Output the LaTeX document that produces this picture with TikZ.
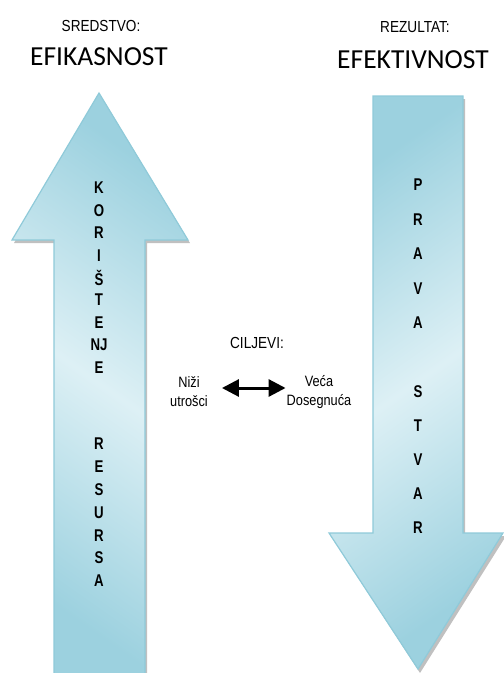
\documentclass[tikz,border=0pt]{standalone}
\usepackage{fontspec}
\setmainfont{Liberation Sans}[FakeStretch=0.85]
\newfontfamily\titlefont{Carlito}
\newfontfamily\letterfont{Liberation Sans}[FakeStretch=0.78]
\usetikzlibrary{arrows.meta}

\definecolor{arrowdark}{HTML}{9CD1DF}
\definecolor{arrowlight}{HTML}{DDF0F5}
\definecolor{arrowedge}{HTML}{8FCAD9}

\begin{document}
\begin{tikzpicture}[x=1pt,y=-1pt,
    bigarrow/.style={draw=arrowedge,line width=1.2pt,line join=miter,
      top color=arrowdark,bottom color=arrowdark,middle color=arrowlight,shading angle=35},
    arrowshadow/.style={fill=black!45,opacity=0.55},
    caption/.style={font=\fontsize{16}{18}\selectfont},
    heading/.style={font=\titlefont\fontsize{27.5}{30}\selectfont},
    letter/.style={font=\letterfont\bfseries\fontsize{17}{18}\selectfont,inner sep=0pt},
    note/.style={font=\fontsize{15}{19}\selectfont,align=center,inner sep=1pt}]
  \useasboundingbox (0,0) rectangle (504,673);

  % up arrow (resources)
  \fill[arrowshadow,shift={(2,3)}] (99,93) -- (188,240) -- (145,240) -- (145,673)
    -- (54,673) -- (54,240) -- (12,240) -- cycle;
  \path[bigarrow,shading angle=-35] (99,93) -- (188,240) -- (145,240) -- (145,675)
    -- (54,675) -- (54,240) -- (12,240) -- cycle;

  % down arrow (the right thing)
  \fill[arrowshadow,shift={(2,3)}] (373,96) -- (463,96) -- (463,533) -- (504,533)
    -- (418,670) -- (329,533) -- (373,533) -- cycle;
  \path[bigarrow] (373,96) -- (463,96) -- (463,533) -- (503,533)
    -- (418,669) -- (329,533) -- (373,533) -- cycle;

  % headings
  \node[caption] (means)  at (101,26) {SREDSTVO:};
  \node[heading] (effic)  at (99,57)  {EFIKASNOST};
  \node[caption] (result) at (415,27) {REZULTAT:};
  \node[heading] (effec)  at (413,60) {EFEKTIVNOST};

  % letters down the arrows
  \foreach \ch [count=\i from 0] in {K,O,R,I,Š,T,E,NJ,E}
    \node[letter] (up\i) at (99,188+22.4*\i) {\ch};
  \foreach \ch [count=\i from 0] in {R,E,S,U,R,S,A}
    \node[letter] (res\i) at (99,444+22.8*\i) {\ch};
  \foreach \ch [count=\i from 0] in {P,R,A,V,A}
    \node[letter] (down\i) at (418,185+34.5*\i) {\ch};
  \foreach \ch [count=\i from 0] in {S,T,V,A,R}
    \node[letter] (thing\i) at (418,392+33.8*\i) {\ch};

  % goals
  \node[caption] (goals) at (257,343) {CILJEVI:};
  \node[note] (lower)  at (189,392) {Niži\\utrošci};
  \node[note] (higher) at (319,392) {Veća\\Dosegnuća};
  \draw[line width=3pt,{Triangle[length=17pt,width=17pt]}-{Triangle[length=17pt,width=17pt]},
    shorten <=13pt,shorten >=0pt] ([yshift=4pt]lower.east) -- ([yshift=4pt]higher.west);
\end{tikzpicture}
\end{document}
